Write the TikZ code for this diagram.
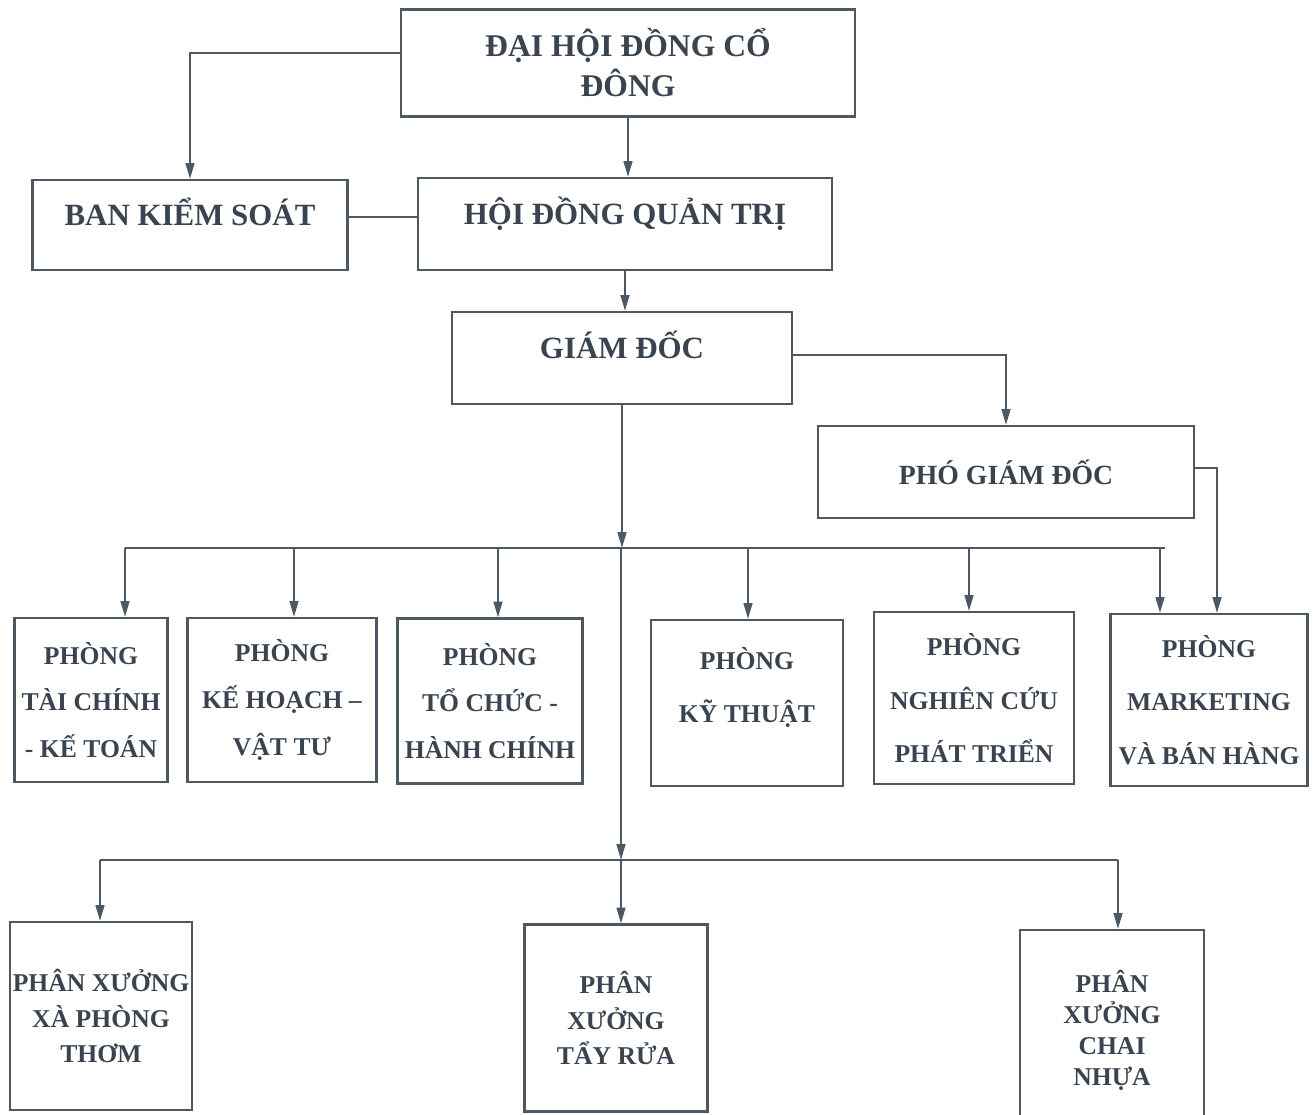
\documentclass[tikz,border=0pt]{standalone}
\usepackage{fontspec}
\setmainfont{Liberation Serif}[BoldFont={Liberation Serif Bold}]
\usepackage{tikz}
\usetikzlibrary{arrows.meta}

\definecolor{inkline}{RGB}{78,88,98}
\definecolor{inktext}{RGB}{58,68,80}

\newcommand\headsize{\fontsize{17.6}{22.7}\selectfont}
\newcommand\roomsize{\fontsize{14.6}{26.6}\selectfont}

\tikzset{
    orgbox/.style 2 args={draw=inkline, line width=1.2pt, text=inktext, font=\bfseries,
        inner sep=0pt, align=center, minimum width=#1*0.02cm, minimum height=#2*0.02cm},
    uptext/.style={text height=12pt, text depth=12pt},
    arr/.style={draw=inkline, line width=1.1pt, -{Triangle[width=5pt,length=9pt]}},
    link/.style={draw=inkline, line width=1.1pt}}

\begin{document}
\begin{tikzpicture}[x=0.02cm, y=-0.02cm]

            \useasboundingbox (0,0) rectangle (1316,1115);

            % upper levels
            \node[orgbox={454}{107}, font=\bfseries\fontsize{18}{22.7}\selectfont] (dhd) at (628,63) {ĐẠI HỘI ĐỒNG CỔ\\ĐÔNG};
            \node[orgbox={315}{90}, uptext, font=\bfseries\headsize] (bks) at (190,225) {BAN KIỂM SOÁT};
            \node[orgbox={414}{92}, uptext, font=\bfseries\headsize] (hdqt) at (625,224) {HỘI ĐỒNG QUẢN TRỊ};
            \node[orgbox={340}{92}, uptext, font=\bfseries\headsize] (gd) at (622,358) {GIÁM ĐỐC};
            \node[orgbox={376}{92}, font=\bfseries\fontsize{15.8}{20}\selectfont] (pgd) at (1006,472) {PHÓ GIÁM ĐỐC};

            % departments
            \node[orgbox={153}{164}, font=\bfseries\roomsize] (tckt) at (91,700) {PHÒNG\\TÀI CHÍNH\\- KẾ TOÁN};
            \node[orgbox={189}{164}, font=\bfseries\roomsize] (khvt) at (282,700) {PHÒNG\\KẾ HOẠCH –\\VẬT TƯ};
            \node[orgbox={185}{165}, font=\bfseries\roomsize] (tchc) at (490,701) {PHÒNG\\TỔ CHỨC -\\HÀNH CHÍNH};
            \node[orgbox={192}{166}, font=\bfseries\roomsize] (kt) at (747,703) {PHÒNG\\[4pt]KỸ THUẬT\\[-6pt]~};
            \node[orgbox={200}{172}, font=\bfseries\fontsize{14.6}{30.6}\selectfont] (ncpt) at (974,698) {PHÒNG\\NGHIÊN CỨU\\PHÁT TRIỂN};
            \node[orgbox={197}{172}, font=\bfseries\fontsize{14.6}{30.6}\selectfont] (mkt) at (1209,700) {PHÒNG\\MARKETING\\VÀ BÁN HÀNG};

            % workshops
            \node[orgbox={182}{188}, font=\bfseries\fontsize{14.6}{20.4}\selectfont] (xpt) at (101,1016) {PHÂN XƯỞNG\\XÀ PHÒNG\\THƠM};
            \node[orgbox={183}{187}, font=\bfseries\fontsize{14.6}{20.4}\selectfont] (tr) at (616,1018) {PHÂN\\XƯỞNG\\TẨY RỬA};
            \node[orgbox={184}{200}, font=\bfseries\fontsize{14.6}{17.6}\selectfont] (cn) at (1112,1030) {PHÂN\\XƯỞNG\\CHAI\\NHỰA};

            \coordinate (bus1) at (621,548);
            \coordinate (bus2) at (621,860);

            \draw[arr] ([yshift=0.2cm]dhd.west) -| (bks.north);
            \draw[arr] (dhd.south) -- (dhd.south |- hdqt.north);
            \draw[link] ([yshift=0.16cm]bks.east) -- ([yshift=0.16cm]bks.east -| hdqt.west);
            \draw[arr] (hdqt.south) -- (hdqt.south |- gd.north);
            \draw[arr] ([yshift=0.06cm]gd.east) -| (pgd.north);
            \draw[arr] ([yshift=0.08cm]pgd.east) -| ([xshift=0.16cm]mkt.north);
            \draw[arr] (gd.south) -- (gd.south |- bus1);

            \draw[link] (125,548) -- (1165,548);
            \foreach \n/\x in {tckt/125, khvt/294, tchc/498, kt/748, ncpt/969, mkt/1160}
                \draw[arr] (\x,548) -- (\n.north -| \x,548);

            \draw[arr] (bus1) -- (bus2);
            \draw[link] (100,860) -- (1118,860);
            \foreach \n/\x in {xpt/100, tr/621, cn/1118}
                \draw[arr] (\x,860) -- (\n.north -| \x,860);

        \end{tikzpicture}
\end{document}
